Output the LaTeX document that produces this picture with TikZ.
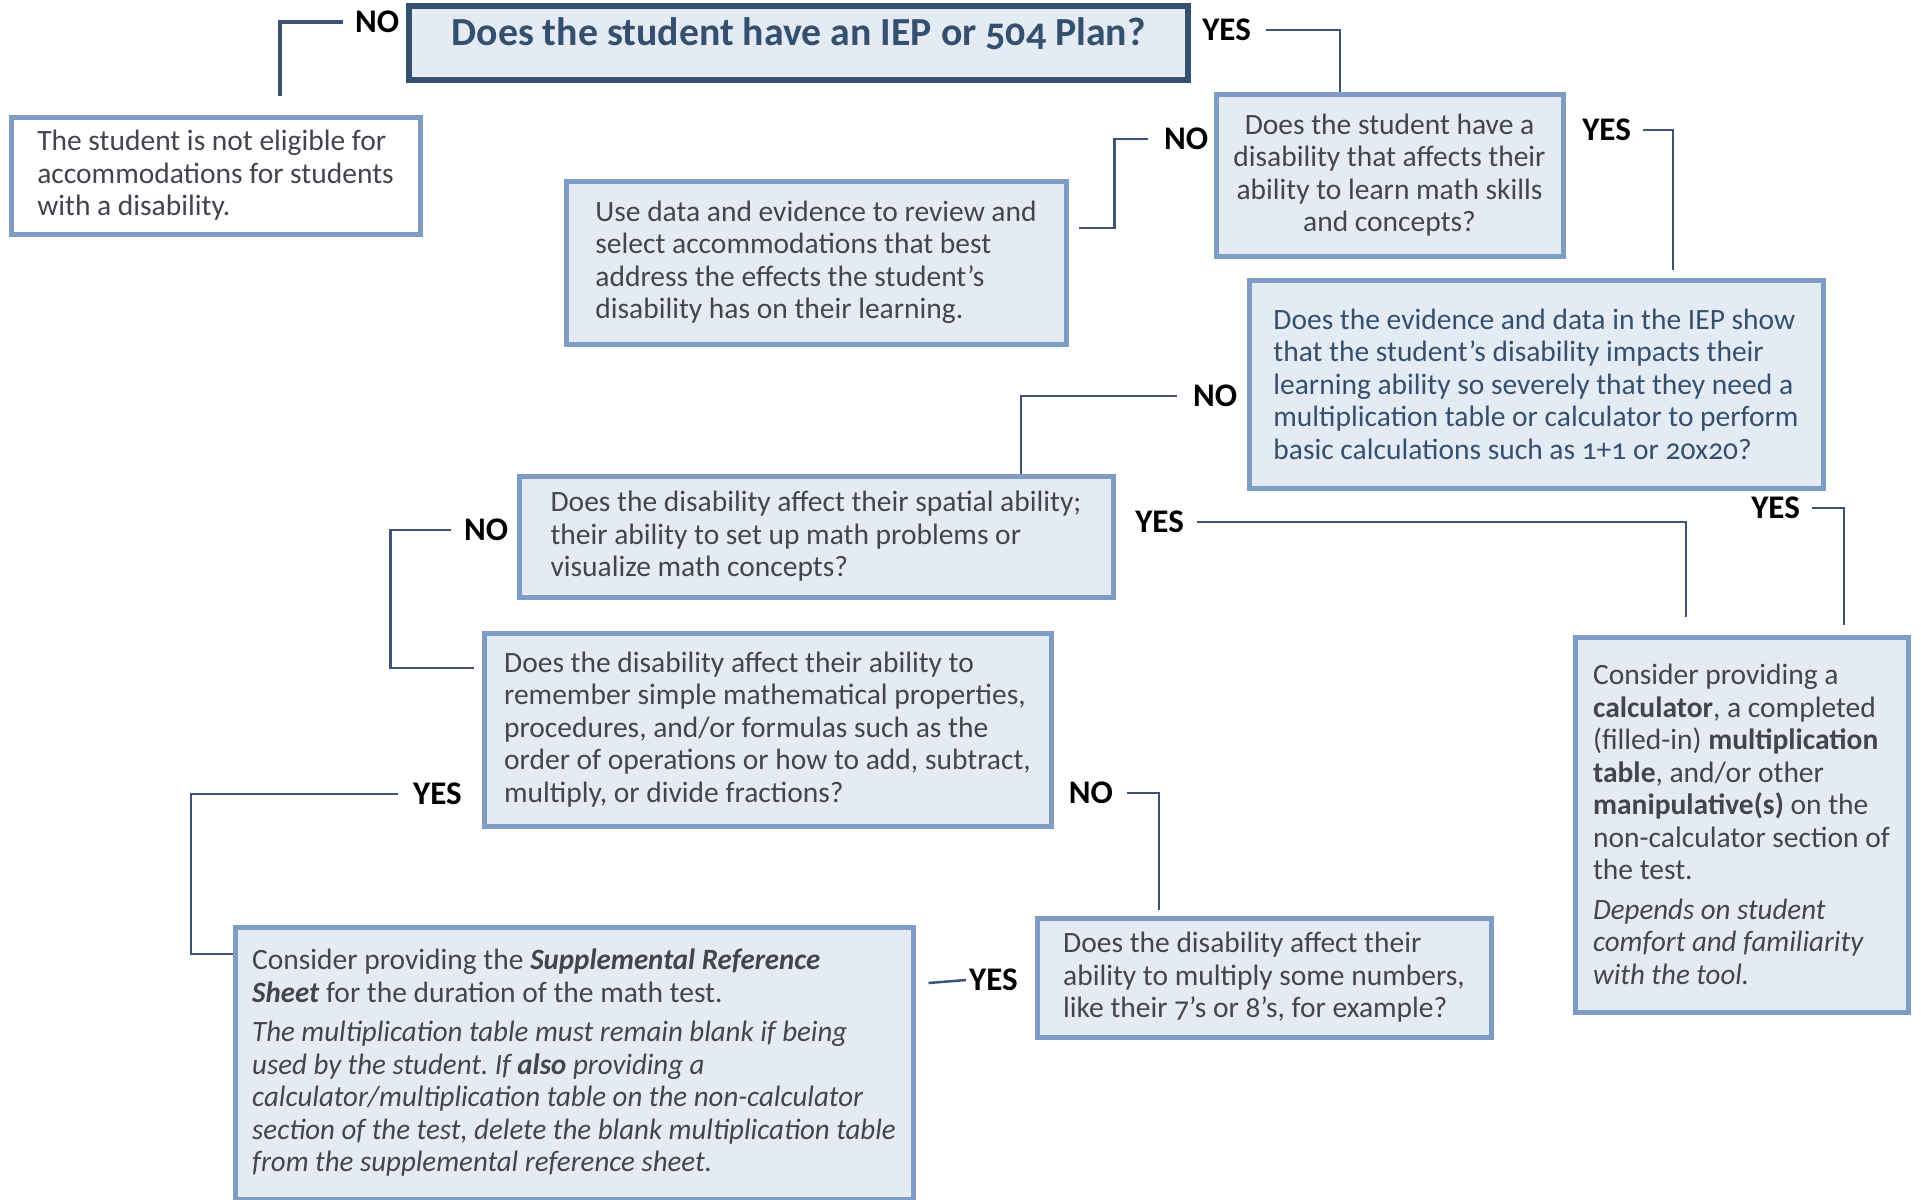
\documentclass[tikz,border=0pt]{standalone}
\usepackage{fontspec}
\setmainfont{Carlito}[Numbers=OldStyle, ItalicFeatures={FakeStretch=0.98}, BoldItalicFeatures={FakeStretch=0.98}]

\definecolor{azulescuro}{RGB}{53,80,111}
\definecolor{bordaazul}{RGB}{126,156,198}
\definecolor{fundoazul}{RGB}{229,235,244}
\definecolor{linhaazul}{RGB}{59,84,120}
\definecolor{textocinza}{RGB}{68,68,80}

\begin{document}
\frenchspacing
\begin{tikzpicture}[
		x=1pt, y=-1pt,
		perguntas/.style 2 args={
			draw=bordaazul,
			fill=fundoazul,
			rectangle,
			line width=5pt,
			minimum width=#1,
			minimum height=#2,
			inner sep=2pt,
			align=left,
			text=textocinza,
			font=\fontsize{29.5}{32.5}\selectfont
		},
		titulo/.style={
			draw=azulescuro,
			fill=fundoazul,
			rectangle,
			line width=6pt,
			minimum width=779pt,
			minimum height=74pt,
			text height=29pt,
			text depth=24pt,
			inner ysep=0pt,
			text=azulescuro,
			font=\fontsize{39.8}{43}\selectfont\bfseries
		},
		rotulo/.style={
			inner sep=0pt,
			text=black,
			font=\fontsize{33}{36}\selectfont\bfseries
		},
		ligacao/.style={
			draw=linhaazul,
			line width=2.5pt
		}
		]
		
		\useasboundingbox (0,0) rectangle (1921,1199);
		
		\node[titulo] (plan) at (798.5,43) {Does the student have an IEP or 504 Plan?};
		
		\node[perguntas={409pt}{117pt}, fill=white] (noelig) at (215.5,175.5)
			{The student is not eligible for\\accommodations for students\\with a disability.};
		\node[perguntas={500pt}{163pt}] (review) at (816,262.5)
			{Use data and evidence to review and\\select accommodations that best\\address the effects the student’s\\disability has on their learning.};
		\node[perguntas={347pt}{162pt}, align=center] (disab) at (1389.5,175)
			{Does the student have a\\disability that affects their\\ability to learn math skills\\and concepts?};
		\node[perguntas={574pt}{208pt}, text=azulescuro] (severe) at (1536,384)
			{Does the evidence and data in the IEP show\\that the student’s disability impacts their\\learning ability so severely that they need a\\multiplication table or calculator to perform\\basic calculations such as 1+1 or 20x20?};
		\node[perguntas={594pt}{121pt}] (spatial) at (816,536.5)
			{Does the disability affect their spatial ability;\\their ability to set up math problems or\\visualize math concepts?};
		\node[perguntas={567pt}{193pt}] (recall) at (767.5,729.5)
			{Does the disability affect their ability to\\remember simple mathematical properties,\\procedures, and/or formulas such as the\\order of operations or how to add, subtract,\\multiply, or divide fractions?};
		\node[perguntas={454pt}{119pt}] (multiply) at (1264,977.5)
			{Does the disability affect their\\ability to multiply some numbers,\\like their 7’s or 8’s, for example?};
		\node[perguntas={678pt}{272pt}] (supref) at (574,1063)
			{Consider providing the \textbf{\textit{Supplemental Reference}}\\\textbf{\textit{Sheet}} for the duration of the math test.\\[7pt]
			\textit{The multiplication table must remain blank if being}\\\textit{used by the student. If \textbf{also} providing a}\\\textit{calculator/multiplication table on the non-calculator}\\\textit{section of the test, delete the blank multiplication table}\\\textit{from the supplemental reference sheet.}};
		\node[perguntas={333pt}{375pt}] (calc) at (1741.5,824.5)
			{Consider providing a\\\textbf{calculator}, a completed\\(filled-in) \textbf{multiplication}\\\textbf{table}, and/or other\\\textbf{manipulative(s)} on the\\non-calculator section of\\the test.\\[7pt]
			\textit{Depends on student}\\\textit{comfort and familiarity}\\\textit{with the tool.}};
		
		%Rotulos
		\node[rotulo, anchor=west] (no1) at (355,22) {NO};
		\node[rotulo, anchor=east] (yes1) at (1251,30) {YES};
		\node[rotulo, anchor=west] (no2) at (1164,139) {NO};
		\node[rotulo, anchor=east] (yes2) at (1631,130) {YES};
		\node[rotulo, anchor=west] (no3) at (1193,396) {NO};
		\node[rotulo, anchor=east] (yes3) at (1800,508) {YES};
		\node[rotulo, anchor=east] (yes4) at (1184,522) {YES};
		\node[rotulo, anchor=west] (no4) at (464,530) {NO};
		\node[rotulo, anchor=west] (yes5) at (413,794) {YES};
		\node[rotulo, anchor=east] (no5) at (1113,793) {NO};
		\node[rotulo, anchor=west] (yes6) at (969,980) {YES};
		
		%Linhas
		\draw[ligacao, line width=4pt] ([xshift=-12pt]no1.west) -| ([xshift=64.5pt,yshift=19pt]noelig.north);
		\draw[ligacao] ([xshift=15pt]yes1.east) -| ([xshift=-49.5pt]disab.north);
		\draw[ligacao] ([xshift=-16pt]no2.west) -| ([xshift=46pt,yshift=34.5pt]review.east) -- ([xshift=10pt,yshift=34.5pt]review.east);
		\draw[ligacao] ([xshift=12pt]yes2.east) -| ([xshift=137pt,yshift=8pt]severe.north);
		\draw[ligacao] ([xshift=-16pt]no3.west) -| ([xshift=205pt]spatial.north);
		\draw[ligacao] ([xshift=13pt]yes4.east) -| ([xshift=-55.5pt,yshift=18pt]calc.north);
		\draw[ligacao] ([xshift=12pt]yes3.east) -| ([xshift=102.5pt,yshift=10pt]calc.north);
		\draw[ligacao] ([xshift=-13pt]no4.west) -| ([xshift=-91pt,yshift=61.5pt]recall.west) -- ([xshift=-8pt,yshift=61.5pt]recall.west);
		\draw[ligacao] ([xshift=-15pt]yes5.west) -| ([xshift=-41.5pt,yshift=109pt]supref.west) -- ([yshift=109pt]supref.west);
		\draw[ligacao] ([xshift=14pt]no5.east) -| ([xshift=-105pt,yshift=6pt]multiply.north);
		\draw[ligacao] ([xshift=-3pt]yes6.west) -- ([xshift=13pt,yshift=80pt]supref.east);
		
	\end{tikzpicture}
\end{document}
